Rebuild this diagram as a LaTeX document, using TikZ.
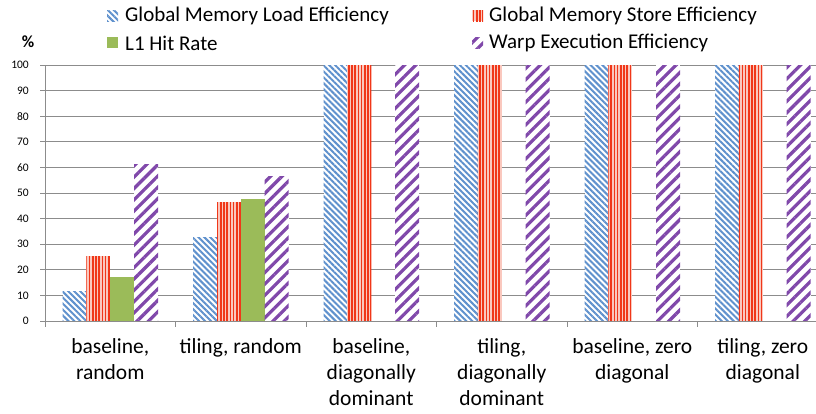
\documentclass[tikz,border=0pt]{standalone}
\usepackage{fontspec}
\setmainfont{Carlito}
\usetikzlibrary{patterns.meta}

\definecolor{loadblue}{RGB}{95,145,205}
\definecolor{storered}{RGB}{240,55,25}
\definecolor{storepink}{RGB}{250,200,190}
\definecolor{hitgreen}{RGB}{155,187,89}
\definecolor{warppurple}{RGB}{128,72,170}
\definecolor{gridgray}{RGB}{140,140,140}

\tikzset{
    loadbar/.style = {
        preaction={fill=white},
        pattern={Lines[angle=-45, distance=4.2pt, line width=2pt]},
        pattern color=loadblue
    },
    storebar/.style = {
        preaction={fill=storepink},
        pattern={Lines[angle=90, distance=3.2pt, line width=1.7pt]},
        pattern color=storered
    },
    hitbar/.style = {
        fill=hitgreen
    },
    warpbar/.style = {
        preaction={fill=white},
        pattern={Lines[angle=45, distance=8pt, line width=3.2pt]},
        pattern color=warppurple
    },
    grid/.style = {
        draw=gridgray, line width=0.9pt
    },
    ticklabel/.style = {
        anchor=east, inner sep=0pt, font=\fontsize{11.5}{13}\selectfont
    },
    legendtext/.style = {
        anchor=west, inner sep=0pt, font=\fontsize{21}{24}\selectfont
    },
    grouplabel/.style = {
        anchor=north, inner sep=0pt, align=center,
        font=\fontsize{21.5}{26}\selectfont
    }
}

\begin{document}
\begin{tikzpicture}[x=1pt, y=-1pt]
\useasboundingbox (0,0) rectangle (816,413);

% grid and axes
\foreach \v in {10,20,...,100}{
    \draw[grid] (45,{321-2.56*\v}) -- (816,{321-2.56*\v});
}
\foreach \v in {0,10,...,100}{
    \draw[grid] (40,{321-2.56*\v}) -- (45,{321-2.56*\v});
    \node[ticklabel] at (29,{321-2.56*\v}) {\v};
}
\draw[grid] (45,65) -- (45,321);
\node (unit) [font=\fontsize{17}{19}\selectfont\bfseries] at (28,42) {\%};

% bars
\foreach \a/\b/\c/\d [count=\i from 0] in {11.5/25.3/17/61, 32.7/46.3/47.8/56.6, 100/100/0/100, 100/100/0/100, 100/100/0/100, 100/100/0/100}{
    \pgfmathsetmacro\gx{45+130.5*\i+17.5}
    \fill[loadbar] (\gx,321) rectangle ++(23.9,{-2.56*\a});
    \fill[storebar] ({\gx+23.9},321) rectangle ++(23.9,{-2.56*\b});
    \fill[hitbar] ({\gx+47.8},321) rectangle ++(23.9,{-2.56*\c});
    \fill[warpbar] ({\gx+71.7},321) rectangle ++(23.9,{-2.56*\d});
}

% x axis
\draw[grid] (45,321) -- (816,321);
\foreach \i in {0,...,5}{
    \draw[grid] ({45+130.5*\i},321) -- ({45+130.5*\i},327);
}

% group labels
\foreach \t [count=\i from 0] in {{baseline,\\random}, {tiling, random}, {baseline,\\diagonally\\dominant}, {tiling,\\diagonally\\dominant}, {baseline, zero\\diagonal}, {tiling, zero\\diagonal}}{
    \node (g\i) [grouplabel] at ({45+130.5*\i+65.25},338) {\t};
}

% legend
\fill[loadbar] (107,10) rectangle (118,21);
\node (lload) [legendtext] at (125,16) {Global Memory Load Efficiency};
\fill[storebar] (472,10) rectangle (483,21);
\node (lstore) [legendtext] at (489,16) {Global Memory Store Efficiency};
\fill[hitbar] (107,37) rectangle (118,48);
\node (lhit) [legendtext] at (125,43) {L1 Hit Rate};
\fill[warpbar] (472,37) rectangle (483,48);
\node (lwarp) [legendtext] at (489,43) {Warp Execution Efficiency};

\end{tikzpicture}
\end{document}
